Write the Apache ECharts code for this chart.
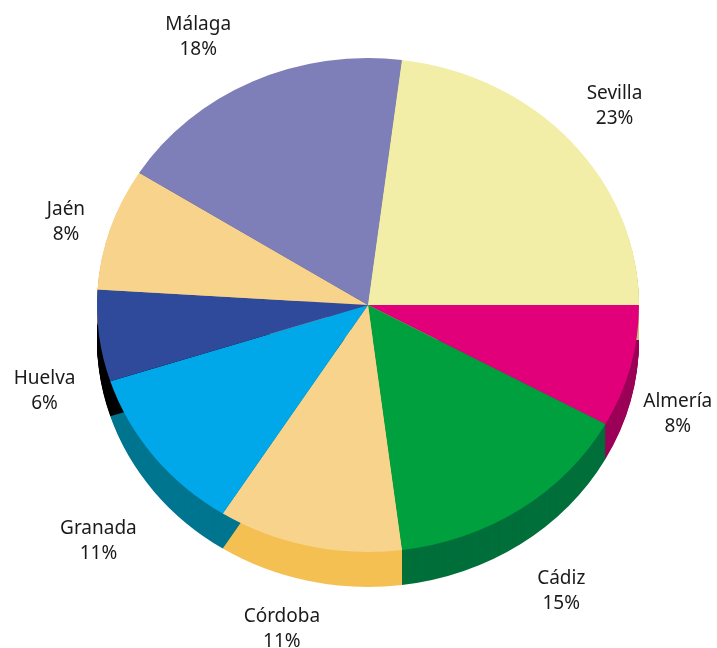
<!DOCTYPE html>
<html>
<head>
<meta charset="utf-8">
<script src="https://cdn.jsdelivr.net/npm/echarts@6/dist/echarts.min.js"></script>
<style>
  html, body { margin: 0; padding: 0; background: #ffffff; }
  #chart { width: 717px; height: 648px; }
</style>
</head>
<body>
<div id="chart"></div>
<script>
// ---- data ----
const categories = ['Almería', 'Cádiz', 'Córdoba', 'Granada', 'Huelva', 'Jaén', 'Málaga', 'Sevilla'];
const shares = [8, 15, 11, 11, 6, 8, 18, 23];

// ---- styling ----
const topColors = ['#E2007A', '#00A03F', '#F8D38C', '#00A8E9', '#2F4A9B', '#F8D38C', '#7E7FB8', '#F3EEA7'];
const sideColors = ['#9C0058', '#006F3A', '#F5C053', '#00758F', '#000000', '#E5B060', '#55568A', '#C9C27A'];
// small hand nudges of the label text, as in the original layout
const labelNudge = [[-6, 0], [10, 5], [-15, -1], [-12, 19], [0, 14], [8, 9], [-31, 1], [2, -2]];

const CX = 368, CY = 305;   // centre of the top face
const R = 271;              // horizontal radius
const RY = 247;             // vertical radius of the tilted face
const SQUASH = RY / R;
const DEPTH = 35;           // visible thickness

const total = shares.reduce((a, b) => a + b, 0);
const startAngles = [], endAngles = [], midAngles = [];
let acc = 0;
shares.forEach(v => {
  startAngles.push(acc / total * Math.PI * 2);
  midAngles.push((acc + v / 2) / total * Math.PI * 2);
  acc += v;
  endAngles.push(acc / total * Math.PI * 2);
});

function sector(i, dy, fill) {
  return {
    type: 'sector',
    shape: { cx: CX, cy: CY, r: R, r0: 0, startAngle: startAngles[i], endAngle: endAngles[i], clockwise: true },
    originX: CX, originY: CY, scaleY: SQUASH, y: dy,
    style: { fill: fill, stroke: null }
  };
}

const seriesData = categories.map((name, i) => ({ name: name, value: shares[i] }));

const chart = echarts.init(document.getElementById('chart'), null, { renderer: 'canvas' });
chart.setOption({
  animation: false,
  series: [
    {
      type: 'custom', coordinateSystem: 'none', silent: true, z: 1,
      data: seriesData,
      renderItem: function (params, api) {
        const i = params.dataIndex;
        const children = [];
        for (let k = DEPTH; k >= 1; k -= 1) children.push(sector(i, k, sideColors[i]));
        return { type: 'group', children: children };
      }
    },
    {
      type: 'custom', coordinateSystem: 'none', silent: true, z: 2,
      data: seriesData,
      renderItem: function (params, api) {
        const i = params.dataIndex;
        return sector(i, 0, topColors[i]);
      }
    },
    {
      type: 'pie', silent: true, z: 3,
      center: [CX, CY], radius: R,
      startAngle: 0, clockwise: true,
      itemStyle: { color: 'rgba(0,0,0,0)', borderWidth: 0 },
      emphasis: { disabled: true },
      labelLine: { show: false },
      label: {
        show: true,
        formatter: '{b}\n{c}%',
        fontFamily: '"Noto Sans", sans-serif',
        fontWeight: 400,
        fontSize: 19,
        lineHeight: 25,
        color: '#1a1a1a',
        width: 140,
        overflow: 'none',
        align: 'center'
      },
      labelLayout: function (p) {
        const i = p.dataIndex;
        const a = midAngles[i];
        const ux = Math.cos(a), uy = Math.sin(a);
        const ox = CX + R * ux;
        const oy = CY + RY * uy + (uy > 0 ? DEPTH : 0);
        return {
          x: ox + 55 * ux + labelNudge[i][0],
          y: oy + 50 * uy + labelNudge[i][1],
          align: 'center',
          verticalAlign: 'middle'
        };
      },
      data: seriesData
    }
  ]
});
</script>
</body>
</html>
